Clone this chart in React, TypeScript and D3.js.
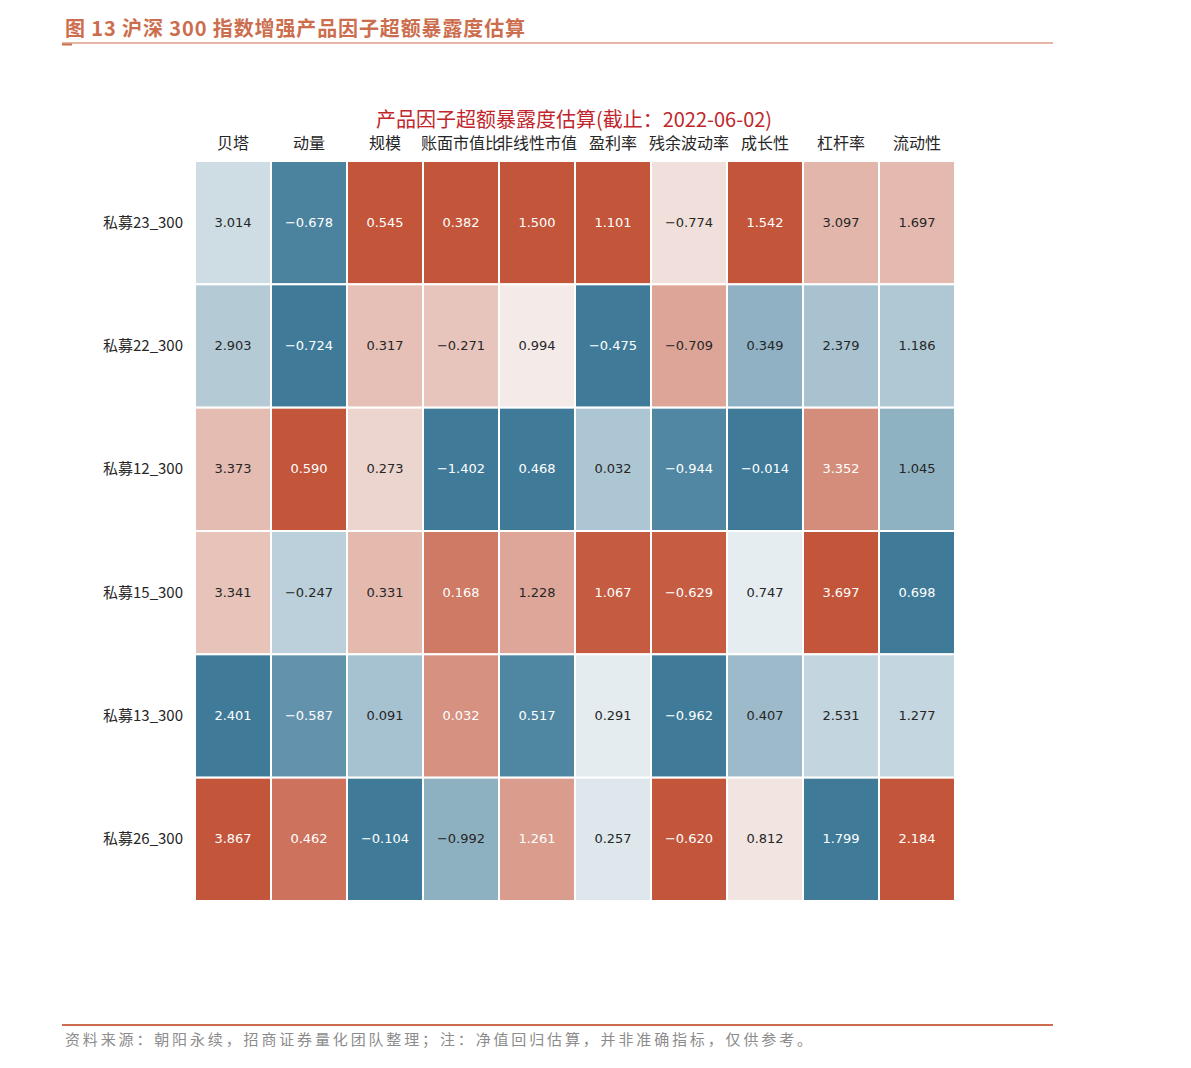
import React from "react";
import * as d3 from "d3";

const factors = ["贝塔", "动量", "规模", "账面市值比", "非线性市值", "盈利率", "残余波动率", "成长性", "杠杆率", "流动性"];
const products = ["私募23_300", "私募22_300", "私募12_300", "私募15_300", "私募13_300", "私募26_300"];

const row23 = [3.014, -0.678, 0.545, 0.382, 1.5, 1.101, -0.774, 1.542, 3.097, 1.697];
const row22 = [2.903, -0.724, 0.317, -0.271, 0.994, -0.475, -0.709, 0.349, 2.379, 1.186];
const row12 = [3.373, 0.59, 0.273, -1.402, 0.468, 0.032, -0.944, -0.014, 3.352, 1.045];
const row15 = [3.341, -0.247, 0.331, 0.168, 1.228, 1.067, -0.629, 0.747, 3.697, 0.698];
const row13 = [2.401, -0.587, 0.091, 0.032, 0.517, 0.291, -0.962, 0.407, 2.531, 1.277];
const row26 = [3.867, 0.462, -0.104, -0.992, 1.261, 0.257, -0.62, 0.812, 1.799, 2.184];
const values = [row23, row22, row12, row15, row13, row26];

const headerTitle = "图 13 沪深 300 指数增强产品因子超额暴露度估算";
const chartTitle = "产品因子超额暴露度估算(截止：2022-06-02)";
const footer = "资料来源：朝阳永续，招商证券量化团队整理；注：净值回归估算，并非准确指标，仅供参考。";

const W = 1191;
const H = 1068;
const FONT = "'Noto Sans CJK SC', 'Noto Sans', sans-serif";
const NUMFONT = "'DejaVu Sans', 'Noto Sans', sans-serif";

// diverging colormap (seaborn-like: linear RGB blend)
const cmap = d3
  .scaleLinear<string>()
  .domain([0, 0.497, 0.5, 0.503, 1])
  .range(["#3f7b99", "#e9eff2", "#f2f2f2", "#f5edeb", "#c3553a"])
  .interpolate(d3.interpolateRgb)
  .clamp(true);

function luminance(c: string) {
  const rgb = d3.rgb(c);
  const f = (v: number) => {
    const s = v / 255;
    return s <= 0.03928 ? s / 12.92 : Math.pow((s + 0.055) / 1.055, 2.4);
  };
  return 0.2126 * f(rgb.r) + 0.7152 * f(rgb.g) + 0.0722 * f(rgb.b);
}

const fmt = d3.format(".3f");

export default function App() {
  const left = 195, right = 955, top = 161, bottom = 901;
  const x = d3.scaleBand<string>().domain(factors).range([left, right]);
  const y = d3.scaleBand<string>().domain(products).range([top, bottom]);

  const colScales = factors.map((_, j) => {
    const col = values.map((r) => r[j]);
    return d3.scaleLinear().domain(d3.extent(col) as [number, number]).range([0, 1]);
  });

  const accent = "#cc6e4e";

  return (
    <div style={{ position: "absolute", left: 0, top: 0 }}>
      <svg width={W} height={H} style={{ display: "block", background: "#fff" }}>
        {/* header */}
        <text x={65} y={36} fontFamily={FONT} fontSize={20} fontWeight="bold" fill={accent} textLength={460} lengthAdjust="spacing">
          {headerTitle}
        </text>
        <line x1={62} x2={1053} y1={43} y2={43} stroke={accent} strokeWidth={1} />
        <line x1={62} x2={72} y1={44.5} y2={44.5} stroke={accent} strokeWidth={2} />

        {/* chart title */}
        <text x={574} y={127} textAnchor="middle" fontFamily={FONT} fontSize={20} fill="#c0262c">
          {chartTitle}
        </text>

        {/* column labels */}
        {factors.map((f) => (
          <text key={f} x={(x(f) ?? 0) + x.bandwidth() / 2} y={149} textAnchor="middle" fontFamily={FONT} fontSize={16} fill="#262626">
            {f}
          </text>
        ))}

        {/* row labels */}
        {products.map((p) => (
          <text key={p} x={183} y={(y(p) ?? 0) + y.bandwidth() / 2 + 5} textAnchor="end" fontFamily={FONT} fontSize={15} fill="#262626">
            {p}
          </text>
        ))}

        {/* cells */}
        {products.map((p, i) =>
          factors.map((f, j) => {
            const v = values[i][j];
            const c = cmap(colScales[j](v));
            const tc = luminance(c) > 0.408 ? "#262626" : "#ffffff";
            const cx = (x(f) ?? 0) + x.bandwidth() / 2;
            const cy = (y(p) ?? 0) + y.bandwidth() / 2;
            return (
              <g key={p + f}>
                <rect x={x(f)} y={y(p)} width={x.bandwidth()} height={y.bandwidth()} fill={c} stroke="#ffffff" strokeWidth={2} />
                <text x={cx} y={cy + 4} textAnchor="middle" fontFamily={NUMFONT} fontSize={13} fill={tc}>
                  {fmt(v)}
                </text>
              </g>
            );
          })
        )}

        {/* footer */}
        <line x1={62} x2={1053} y1={1025} y2={1025} stroke={accent} strokeWidth={2} />
        <text x={65} y={1045} fontFamily={FONT} fontSize={15} fill="#8c8c8c" textLength={747} lengthAdjust="spacing">
          {footer}
        </text>
      </svg>
    </div>
  );
}
